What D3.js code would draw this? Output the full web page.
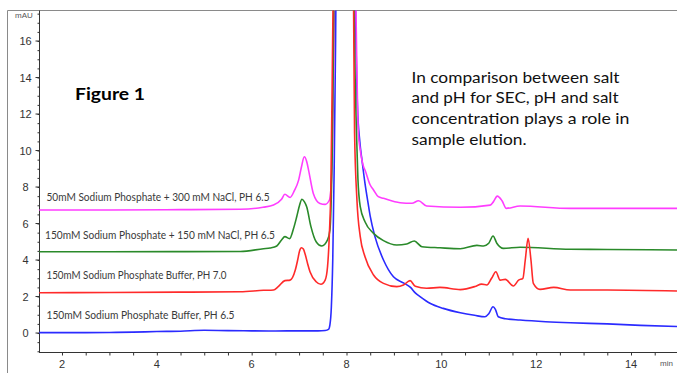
<!DOCTYPE html>
<html>
<head>
<meta charset="utf-8">
<script src="https://cdn.jsdelivr.net/npm/d3@7"></script>
<style>
  html, body { margin: 0; padding: 0; background: #fff; }
  svg { display: block; }
</style>
</head>
<body>
<svg id="chart" width="677" height="373"></svg>
<script>
// Retention time (min) / absorbance (mAU) pairs for each run
const bufferPH65 = [
  [1.52,0.02],[2.5,0.02],[3.0,0.03],[3.5,0.05],[4.0,0.08],[4.5,0.1],[5.0,0.15],[5.5,0.13],
  [6.0,0.12],[6.5,0.11],[7.0,0.12],[7.4,0.12],[7.55,0.14],[7.62,0.2],[7.65,0.45],[7.68,1.4],
  [7.71,4],[7.74,9],[7.77,16],[7.80,26],[7.9,80],[8.0,90],[8.1,50],[8.16,25],[8.19,17.7],
  [8.23,12.5],[8.28,10.5],[8.33,9.4],[8.39,8.2],[8.45,7.2],[8.50,6.4],[8.60,5.28],[8.78,4.0],
  [8.99,3.08],[9.20,2.75],[9.35,2.5],[9.45,2.2],[9.55,2.0],[9.76,1.63],[10.04,1.35],[10.40,1.11],
  [10.70,0.97],[10.92,0.89],[11.0,1.05],[11.09,1.44],[11.14,1.3],[11.20,0.89],[11.35,0.78],
  [11.66,0.71],[12.2,0.62],[12.72,0.56],[13.5,0.5],[14.2,0.42],[14.97,0.36]
];
const bufferPH70 = [
  [1.52,2.21],[3,2.22],[4.5,2.24],[5.76,2.26],[6.25,2.34],[6.46,2.36],[6.56,2.54],[6.70,2.87],
  [6.81,2.9],[6.92,3.45],[6.97,4.0],[7.01,4.5],[7.05,4.67],[7.09,4.6],[7.13,4.3],[7.18,3.8],
  [7.23,3.36],[7.36,2.81],[7.46,2.67],[7.55,2.9],[7.60,3.63],[7.64,5.5],[7.67,8],[7.69,12],
  [7.72,19],[7.80,60],[7.95,100],[8.08,50],[8.13,25],[8.15,17.7],[8.17,11],[8.22,7.29],
  [8.29,5.28],[8.39,4.18],[8.57,3.18],[8.78,2.72],[9.06,2.54],[9.20,2.63],[9.34,2.87],
  [9.45,2.56],[9.69,2.45],[9.97,2.5],[10.40,2.38],[10.71,2.55],[10.85,2.68],[10.96,2.63],
  [11.06,3.0],[11.15,3.36],[11.24,2.9],[11.35,2.94],[11.52,2.58],[11.63,2.9],[11.72,3.0],
  [11.77,4.0],[11.83,5.19],[11.89,4.0],[11.94,2.72],[12.08,2.39],[12.37,2.5],[12.72,2.36],
  [13.5,2.36],[14.97,2.3]
];
const salt150 = [
  [1.52,4.45],[3,4.45],[4.5,4.46],[5.76,4.47],[6.25,4.62],[6.39,4.66],[6.53,4.77],[6.63,5.1],
  [6.70,5.28],[6.80,5.17],[6.88,5.7],[6.95,6.37],[7.01,7.0],[7.06,7.33],[7.11,7.2],[7.16,6.92],
  [7.25,5.83],[7.36,5.0],[7.48,4.77],[7.60,5.1],[7.65,5.64],[7.68,7.5],[7.70,10],[7.73,17],
  [7.76,25],[7.9,90],[8.05,80],[8.12,30],[8.16,17.7],[8.21,11],[8.24,8.5],[8.29,6.92],
  [8.39,6.1],[8.57,5.46],[8.78,5.06],[9.06,4.82],[9.27,4.88],[9.43,5.04],[9.59,4.73],
  [9.97,4.67],[10.40,4.62],[10.75,4.8],[10.89,4.77],[11.0,4.92],[11.09,5.32],[11.17,4.92],
  [11.31,4.64],[11.66,4.7],[12.72,4.59],[13.5,4.58],[14.97,4.55]
];
const salt300 = [
  [1.52,6.74],[3,6.74],[4.5,6.76],[5.76,6.78],[6.24,6.89],[6.46,7.01],[6.63,7.33],[6.70,7.6],
  [6.81,7.43],[6.90,7.8],[6.99,8.38],[7.05,9.1],[7.11,9.66],[7.16,9.4],[7.20,8.93],[7.30,7.65],
  [7.44,7.1],[7.55,7.05],[7.64,7.29],[7.69,8.77],[7.71,11],[7.74,17],[7.77,25],[7.9,90],
  [8.05,80],[8.14,30],[8.20,17.7],[8.25,10.96],[8.29,10.03],[8.36,9.11],[8.39,8.93],[8.50,8.11],
  [8.57,7.84],[8.67,7.47],[8.78,7.38],[9.13,7.14],[9.38,7.11],[9.52,7.25],[9.69,6.96],
  [10.40,6.89],[11.03,7.01],[11.10,7.2],[11.18,7.5],[11.28,7.25],[11.37,6.83],[11.66,6.96],
  [12.72,6.83],[14.97,6.83]
];

const runLabels = [
  "50mM Sodium Phosphate + 300 mM NaCl, PH 6.5",
  "150mM Sodium Phosphate + 150 mM NaCl, PH 6.5",
  "150mM Sodium Phosphate Buffer, PH 7.0",
  "150mM Sodium Phosphate Buffer, PH 6.5"
];
const xTicks = [2, 4, 6, 8, 10, 12, 14];
const yTicks = [0, 2, 4, 6, 8, 10, 12, 14, 16];
const noteLines = [
  "In comparison between salt",
  "and pH for SEC, pH and salt",
  "concentration plays a role in",
  "sample elution."
];

const svg = d3.select("#chart");
const x = d3.scaleLinear().domain([1.515, 14.97]).range([39, 677]);
const y = d3.scaleLinear().domain([-1.04, 17.7]).range([352, 10]);

// outer frame (top and left edges)
svg.append("path").attr("d", "M7.5,373V10.5H677")
  .attr("fill", "none").attr("stroke", "#8a8a8a").attr("stroke-width", 1);

svg.append("clipPath").attr("id", "plot-clip")
  .append("rect").attr("x", 39).attr("y", 10.5).attr("width", 638).attr("height", 342);

// axes
const axisFont = "'Liberation Sans', Arial, sans-serif";
const xMinor = d3.range(1.5, 15.01, 0.5).filter(v => v >= 1.515 && v <= 14.97);
const yMinor = d3.range(-1, 17.51, 0.5);

const gx = svg.append("g").attr("transform", "translate(0,352.5)");
gx.call(d3.axisBottom(x).tickValues(xMinor).tickSize(3).tickFormat(""));
gx.call(g => g.select(".domain").remove());
gx.append("path").attr("d", "M39,0H677").attr("stroke", "#333").attr("fill", "none");
gx.selectAll(".tick line").attr("stroke", "#333");
gx.selectAll(".lab").data(xTicks).join("text").attr("class", "lab")
  .attr("x", d => x(d)).attr("y", 15)
  .attr("text-anchor", "middle").attr("font-family", axisFont).attr("font-size", 11)
  .attr("fill", "#333").text(d => d);

const gy = svg.append("g").attr("transform", "translate(39.5,0)");
gy.call(d3.axisLeft(y).tickValues(yMinor).tickSize(2).tickFormat(""));
gy.call(g => g.select(".domain").remove());
gy.selectAll(".tick line").attr("stroke", "#333");
gy.selectAll(".major").data(yTicks).join("line").attr("class", "major")
  .attr("x1", -4).attr("x2", 0).attr("y1", d => y(d)).attr("y2", d => y(d)).attr("stroke", "#333");
gy.append("path").attr("d", "M0,10.5V352.5").attr("stroke", "#333").attr("fill", "none");
gy.selectAll(".lab").data(yTicks).join("text").attr("class", "lab")
  .attr("x", -14).attr("y", d => y(d) + 4)
  .attr("text-anchor", "middle").attr("font-family", axisFont).attr("font-size", 11)
  .attr("fill", "#333").text(d => d);

svg.append("text").attr("x", 15).attr("y", 18).attr("font-family", axisFont)
  .attr("font-size", 8).attr("fill", "#555").text("mAU");
svg.append("text").attr("x", 660).attr("y", 366).attr("font-family", axisFont)
  .attr("font-size", 8).attr("fill", "#555").text("min");

// chromatogram traces
const line = d3.line().x(d => x(d[0])).y(d => y(d[1])).curve(d3.curveMonotoneX);
const traces = [
  { data: bufferPH65, color: "#2b2bff" },
  { data: salt300, color: "#ff3dff" },
  { data: salt150, color: "#2a8a2a" },
  { data: bufferPH70, color: "#ff2a2a" }
];
svg.append("g").attr("clip-path", "url(#plot-clip)")
  .selectAll("path").data(traces).join("path")
  .attr("d", d => line(d.data)).attr("fill", "none")
  .attr("stroke", d => d.color).attr("stroke-width", 1.6)
  .attr("stroke-linejoin", "round");

// run labels
const labelFont = "Lato, 'Open Sans', sans-serif";
const labelPos = [
  { x: 46.5, y: 200.5, w: 223 },
  { x: 45, y: 238.5, w: 230 },
  { x: 46.5, y: 279, w: 180 },
  { x: 46.5, y: 319, w: 188 }
];
svg.selectAll(".run").data(runLabels).join("text").attr("class", "run")
  .attr("x", (d, i) => labelPos[i].x).attr("y", (d, i) => labelPos[i].y)
  .attr("textLength", (d, i) => labelPos[i].w).attr("lengthAdjust", "spacingAndGlyphs")
  .attr("font-family", labelFont).attr("font-size", 10.5).attr("fill", "#3a3a3a")
  .text(d => d);

svg.append("text").attr("x", 75).attr("y", 100)
  .attr("textLength", 70).attr("lengthAdjust", "spacingAndGlyphs")
  .attr("font-family", labelFont).attr("font-weight", "bold").attr("font-size", 17)
  .attr("fill", "#000").text("Figure 1");

const noteWidths = [208, 207, 218, 115];
svg.selectAll(".note").data(noteLines).join("text").attr("class", "note")
  .attr("x", 411.5).attr("y", (d, i) => 82.5 + i * 20.8)
  .attr("textLength", (d, i) => noteWidths[i]).attr("lengthAdjust", "spacingAndGlyphs")
  .attr("font-family", labelFont).attr("font-size", 15).attr("fill", "#111")
  .text(d => d);
</script>
</body>
</html>
